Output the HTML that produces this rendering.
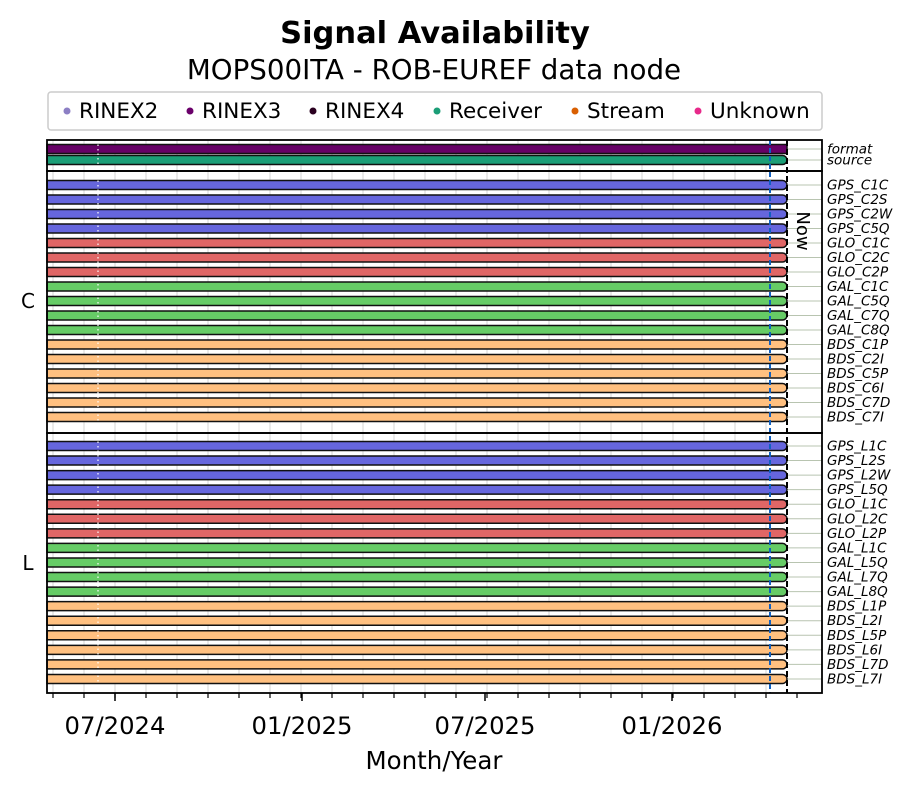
<!DOCTYPE html>
<html><head><meta charset="utf-8">
<style>
html,body{margin:0;padding:0;background:#fff;}
svg{display:block;font-family:"DejaVu Sans","Liberation Sans",sans-serif;}
</style></head>
<body>
<svg id="s" width="914" height="793" viewBox="0 0 914 793" xmlns="http://www.w3.org/2000/svg">
<rect width="914" height="793" fill="#fff"/>
<text x="435" y="43" font-size="30.5" font-weight="bold" text-anchor="middle">Signal Availability</text>
<text x="434" y="79" font-size="27.7" text-anchor="middle">MOPS00ITA - ROB-EUREF data node</text>
<rect x="48" y="92" width="774" height="38" rx="3" fill="#fff" stroke="#ccc" stroke-width="1.5"/>
<g font-size="21.5">
<circle cx="67" cy="111" r="3.5" fill="#8c7fc4"/><text x="79" y="118">RINEX2</text>
<circle cx="190" cy="111" r="3.5" fill="#6a006a"/><text x="202" y="118">RINEX3</text>
<circle cx="313" cy="111" r="3.5" fill="#2a0020"/><text x="325" y="118">RINEX4</text>
<circle cx="437" cy="111" r="3.5" fill="#1b9e77"/><text x="449" y="118">Receiver</text>
<circle cx="575" cy="111" r="3.5" fill="#d95f02"/><text x="587" y="118">Stream</text>
<circle cx="698" cy="111" r="3.5" fill="#e7298a"/><text x="710" y="118">Unknown</text>
</g>
<g id="g"></g>
<text x="434" y="769" font-size="24.5" text-anchor="middle">Month/Year</text>
</svg>
<script>
const g=document.getElementById('g');let h='';
const L=47,R=822,E=787;
const months=[];for(let x=53;x<=800;x+=31)months.push(x);
function grid(y1,y2){for(const x of months){if(x<E)h+=`<line x1="${x}" y1="${y1}" x2="${x}" y2="${y2}" stroke="#e4e4e4" stroke-width="1.5"/>`;}}
grid(140,693);
function bar(y,c,label,sq){
 h+=`<line x1="${E}" y1="${y}" x2="${R}" y2="${y}" stroke="#b8c4b0" stroke-width="1"/>`;
 if(sq) h+=`<rect x="${L}" y="${y-4.5}" width="${E-L}" height="9" fill="${c}" stroke="#111" stroke-width="1.5"/>`;
 else h+=`<path d="M${L} ${y-4.5} H${E-4.5} A4.5 4.5 0 0 1 ${E-4.5} ${y+4.5} H${L} Z" fill="${c}" stroke="#111" stroke-width="1.5"/>`;
 h+=`<text x="827" y="${y+4.5}" font-size="13.5" font-style="italic">${label}</text>`;
}
bar(149,'#660066','format',true);bar(160,'#1b9e77','source');
const cols={GPS:'#6666dd',GLO:'#e06666',GAL:'#66cc66',BDS:'#ffc080'};
const C=['GPS_C1C','GPS_C2S','GPS_C2W','GPS_C5Q','GLO_C1C','GLO_C2C','GLO_C2P','GAL_C1C','GAL_C5Q','GAL_C7Q','GAL_C8Q','BDS_C1P','BDS_C2I','BDS_C5P','BDS_C6I','BDS_C7D','BDS_C7I'];
C.forEach((n,i)=>bar(185+i*14.5,cols[n.slice(0,3)],n));
C.forEach((n,i)=>{const m=n.replace('_C','_L');bar(446+i*14.56,cols[n.slice(0,3)],m);});
h+=`<line x1="98" y1="140" x2="98" y2="693" stroke="#fff" stroke-width="1.2" stroke-dasharray="1.5,3"/>`;
h+=`<line x1="770" y1="140" x2="770" y2="693" stroke="#1060c0" stroke-width="2" stroke-dasharray="5,3"/>`;
h+=`<line x1="787" y1="140" x2="787" y2="693" stroke="#000" stroke-width="2" stroke-dasharray="6,3"/>`;
[[140,171],[171,433],[433,693]].forEach(([a,b])=>h+=`<rect x="${L}" y="${a}" width="${R-L}" height="${b-a}" fill="none" stroke="#000" stroke-width="1.8"/>`);
h+=`<text transform="translate(797,231) rotate(90)" font-size="18" text-anchor="middle">Now</text>`;
h+=`<text x="28" y="308" font-size="20" text-anchor="middle">C</text><text x="28" y="570" font-size="20" text-anchor="middle">L</text>`;
for(const x of months){h+=`<line x1="${x}" y1="693" x2="${x}" y2="698" stroke="#000" stroke-width="1.2"/>`;}
[[115,'07/2024'],[302,'01/2025'],[485,'07/2025'],[672,'01/2026']].forEach(([x,t])=>{h+=`<line x1="${x}" y1="693" x2="${x}" y2="701" stroke="#000" stroke-width="1.5"/><text x="${x}" y="734" font-size="24.3" text-anchor="middle">${t}</text>`;});
g.innerHTML=h;
</script>
</body></html>
